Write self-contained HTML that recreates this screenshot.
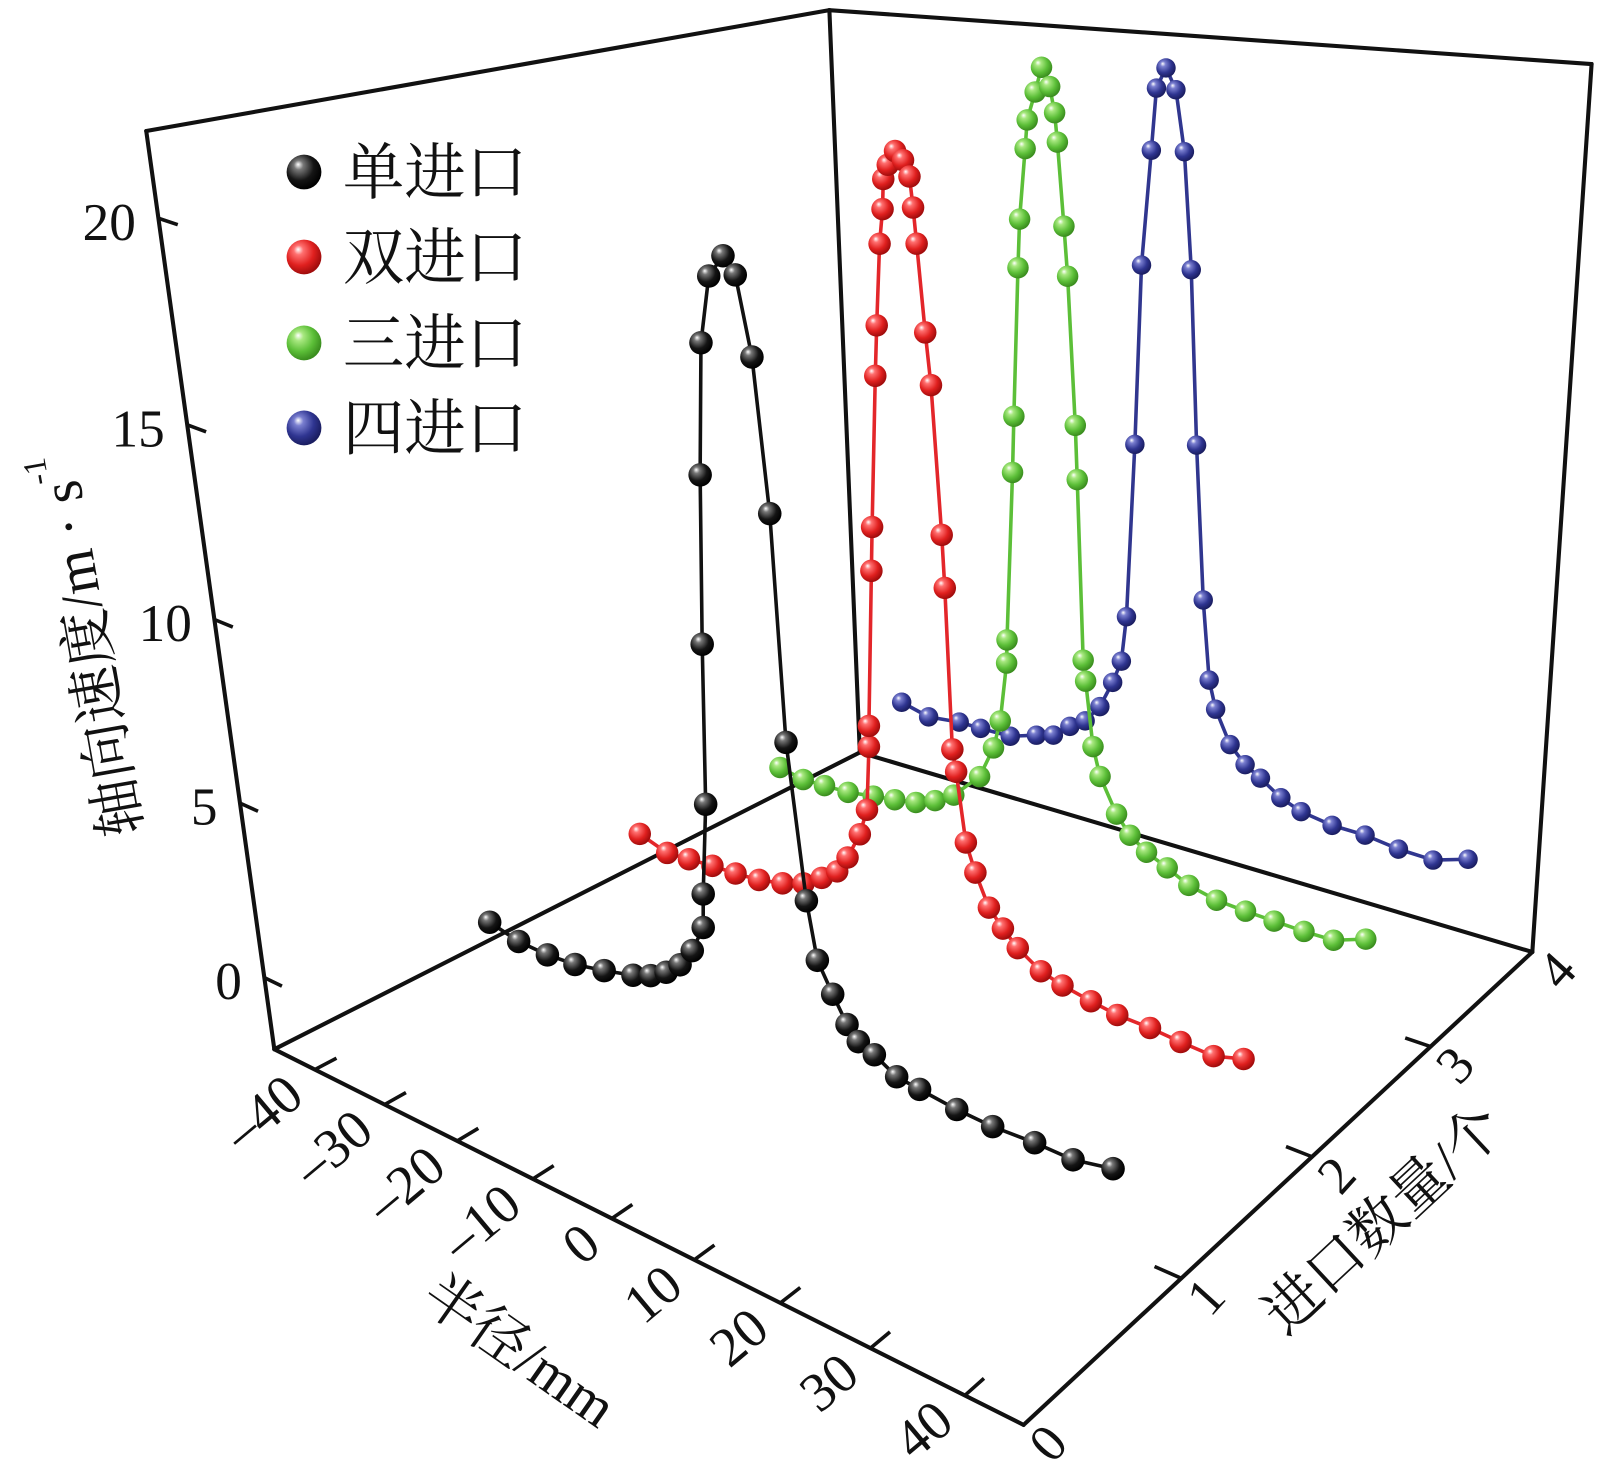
<!DOCTYPE html>
<html><head><meta charset="utf-8"><title>轴向速度 3D chart</title>
<style>
html,body{margin:0;padding:0;background:#fff;}
svg{display:block;}
text{font-family:"Liberation Serif","Noto Serif CJK SC",serif;fill:#111;}
</style></head>
<body>
<svg id="chart" width="1605" height="1470" viewBox="0 0 1568 1436" xmlns="http://www.w3.org/2000/svg">
<defs>
<radialGradient id="g-black" cx="0.4" cy="0.38" r="0.62" fx="0.33" fy="0.28"><stop offset="0" stop-color="#ffffff"/><stop offset="0.22" stop-color="#777"/><stop offset="0.65" stop-color="#151515"/><stop offset="1" stop-color="#000"/></radialGradient>
<radialGradient id="g-red" cx="0.4" cy="0.38" r="0.62" fx="0.33" fy="0.28"><stop offset="0" stop-color="#ffffff"/><stop offset="0.22" stop-color="#ff7070"/><stop offset="0.65" stop-color="#e0201f"/><stop offset="1" stop-color="#a00c0c"/></radialGradient>
<radialGradient id="g-green" cx="0.4" cy="0.38" r="0.62" fx="0.33" fy="0.28"><stop offset="0" stop-color="#ffffff"/><stop offset="0.22" stop-color="#a8e880"/><stop offset="0.65" stop-color="#5cbf38"/><stop offset="1" stop-color="#3a8d1e"/></radialGradient>
<radialGradient id="g-blue" cx="0.4" cy="0.38" r="0.62" fx="0.33" fy="0.28"><stop offset="0" stop-color="#ffffff"/><stop offset="0.22" stop-color="#7a7fd0"/><stop offset="0.65" stop-color="#2f3591"/><stop offset="1" stop-color="#1a1d60"/></radialGradient>
</defs>
<g id="box"></g>
<g id="ticks"></g>
<g id="series"></g>
<text x="507" y="1320" font-size="56" text-anchor="middle" dominant-baseline="central" transform="rotate(35 507 1320)">半径/mm</text>
<text x="1352" y="1192" font-size="56" text-anchor="middle" dominant-baseline="central" transform="rotate(-43 1352 1192)">进口数量/个</text>
<text x="88" y="630" font-size="56" text-anchor="middle" dominant-baseline="central" transform="rotate(-100 88 630)">轴向速度/m · s<tspan font-size="32" dy="-22">-1</tspan></text>
<g id="legend"></g>
</svg>
<script>
// ---- data ----
const seriesNames = ["单进口","双进口","三进口","四进口"];
const seriesN = [1,2,3,4];
const xBlack = [-40,-35.8,-31.6,-27.6,-23.4,-19.3,-16.8,-14.6,-12.6,-10.8,-9.1,-8.8,-7.7,-6.8,-5.7,-4.6,-3.2,-1.4,-0.1,1.3,2.4,2.9,4.4,5.4,7.1,8.7,10,11.9,14.5,17.2,21.5,25.6,30.3,34.5,38.8];
const zBlack = [-0.46,-0.67,-0.70,-0.63,-0.44,-0.21,0,0.3,0.7,1.28,2.1,3.1,5.75,10.2,14.65,17.95,19.65,20.25,19.85,17.95,14.2,8.3,4.1,2.5,1.7,1.0,0.64,0.46,0.1,0.02,-0.1,-0.15,-0.1,-0.12,0.1];
const xRed = [-40,-35.9,-32.6,-29.1,-25.7,-22.3,-18.9,-15.9,-13.3,-11.1,-9.6,-7.8,-6.7,-6.1,-6.0,-4.9,-4.6,-3.5,-3.1,-2.4,-1.9,-1.7,-1.1,-0.2,0.7,1.4,1.7,2.0,2.7,3.2,4.0,4.2,4.6,5.0,6.0,7.1,8.7,10.4,12.2,15.0,17.6,21.0,24.1,27.9,31.4,35.1,38.4];
const zRed = [-0.08,-0.36,-0.3,-0.23,-0.2,-0.13,0.04,0.28,0.66,1.04,1.58,2.43,3.26,5.2,5.8,10.3,11.5,15.6,16.9,19.0,19.9,20.7,21.1,21.5,21.3,20.9,20.1,19.2,17.0,15.7,11.8,10.4,5.9,5.3,3.3,2.5,1.6,1.13,0.71,0.28,0.1,-0.05,-0.16,-0.18,-0.25,-0.3,-0.07];
const xGreen = [-39.5,-35.9,-32.6,-29,-25.2,-22,-18.9,-16.1,-13.4,-9.7,-7.7,-6.7,-5.7,-5.6,-4.5,-4.2,-3.4,-3.1,-2.3,-2.0,-1.0,-0.2,0.75,1.3,1.6,2.3,2.7,3.5,3.7,4.3,4.6,5.5,6.4,8.5,10.2,12.3,14.9,17.6,21,24.5,27.9,31.4,34.8,38.4];
const zGreen = [-0.11,-0.26,-0.23,-0.2,-0.06,0.05,0.18,0.44,0.81,1.66,2.71,3.63,5.5,6.2,11.2,12.8,16.9,18.2,20.1,20.9,21.7,22.4,21.9,21.2,20.4,18.2,16.9,12.9,11.4,6.2,5.6,3.67,2.81,1.8,1.28,0.92,0.64,0.32,0.14,0.09,0.07,0.05,0.07,0.4];
const xBlue = [-38.75,-34.5,-29.7,-26.4,-21.9,-18,-15.5,-13.1,-10.9,-8.8,-7,-5.8,-5.1,-4,-3.2,-2,-1.4,-0.24,1.0,2.1,3.1,4,5.1,6,6.9,8.85,10.85,12.85,15.5,18.1,22,26.05,30.1,34.2,38.2];
const zBlue = [0.16,-0.09,0.02,0.01,0.02,0.3,0.46,0.9,1.22,1.82,2.73,3.5,5.0,10.4,15.65,18.85,20.6,21.2,20.6,18.9,15.7,10.7,6.05,3.58,2.7,1.69,1.18,0.88,0.44,0.18,0.02,0,-0.14,-0.18,0.13];
const zTicks = [0,5,10,15,20];
const xTicks = [-40,-30,-20,-10,0,10,20,30,40];
const nTicks = [0,1,2,3,4];

// ---- projection (perspective box) ----
const VP=[1095,6954];
const cA=[268,1025], cB=[1000,1392], cC=[1497,930], cD=[840,735];
const kA=.1513, kB=.179, kC=.144, kD=.1166;
const nTab=[0,1,2,3,4], vTab=[0,.31,.567,.80,1];
const zTab=[-2,0,5,10,15,20,22.2], gTab=[0,.078,.268,.468,.68,.905,1];
const XMIN=-46, XMAX=46, PC=1.22, ZTOP=22.2, ZFLOOR=-2;
function interp(xs,ys,v){
  if(v<=xs[0]) return ys[0]+(v-xs[0])*(ys[1]-ys[0])/(xs[1]-xs[0]);
  for(let i=1;i<xs.length;i++){ if(v<=xs[i]) return ys[i-1]+(v-xs[i-1])*(ys[i]-ys[i-1])/(xs[i]-xs[i-1]); }
  const m=xs.length-1; return ys[m]+(v-xs[m])*(ys[m]-ys[m-1])/(xs[m]-xs[m-1]);
}
function lerp(a,b,t){return [a[0]+(b[0]-a[0])*t, a[1]+(b[1]-a[1])*t];}
function proj(x,n,z){
  const v=interp(nTab,vTab,n);
  const t=(x-XMIN)/(XMAX-XMIN);
  const p=t/(t+PC*(1-t));
  const F=lerp(lerp(cA,cD,v), lerp(cB,cC,v), p);
  const k=(1-p)*(1-v)*kA+p*(1-v)*kB+p*v*kC+(1-p)*v*kD;
  const f=1+k*interp(zTab,gTab,z);
  return [VP[0]+(F[0]-VP[0])*f, VP[1]+(F[1]-VP[1])*f];
}
const NS="http://www.w3.org/2000/svg";
function mk(tag,attrs,parent){const e=document.createElementNS(NS,tag);for(const k in attrs)e.setAttribute(k,attrs[k]);parent.appendChild(e);return e;}

// ---- box ----
const box=document.getElementById('box');
const P=(x,n,z)=>proj(x,n,z);
const edges=[
 ["floor-back-left-edge",P(XMIN,0,ZFLOOR),P(XMIN,4,ZFLOOR)],
 ["floor-back-right-edge",P(XMIN,4,ZFLOOR),P(XMAX,4,ZFLOOR)],
 ["back-vertical-edge",P(XMIN,4,ZFLOOR),P(XMIN,4,ZTOP)],
 ["top-left-edge",P(XMIN,0,ZTOP),P(XMIN,4,ZTOP)],
 ["top-right-edge",P(XMIN,4,ZTOP),P(XMAX,4,ZTOP)],
 ["right-vertical-edge",P(XMAX,4,ZFLOOR),P(XMAX,4,ZTOP)],
 ["x-axis-line",P(XMIN,0,ZFLOOR),P(XMAX,0,ZFLOOR)],
 ["n-axis-line",P(XMAX,0,ZFLOOR),P(XMAX,4,ZFLOOR)],
 ["z-axis-line",P(XMIN,0,ZFLOOR),P(XMIN,0,ZTOP)]
];
edges.forEach(e=>{
  const l=mk('line',{x1:e[1][0],y1:e[1][1],x2:e[2][0],y2:e[2][1],stroke:'#111','stroke-width':4,'stroke-linecap':'round'},box);
  
  
});

// ---- ticks ----
const tg=document.getElementById('ticks');
zTicks.forEach(z=>{
  const a=P(XMIN,0,z), b=P(XMIN+2.6,0,z);
  const l=mk('line',{x1:a[0],y1:a[1],x2:b[0],y2:b[1],stroke:'#111','stroke-width':3.5},tg);
  
  
  const t=mk('text',{x:a[0]-22,y:a[1]+4,'font-size':52,'text-anchor':'end','dominant-baseline':'central'},tg);
  t.textContent=String(z);
  
  
});
xTicks.forEach(x=>{
  const a=P(x,0,ZFLOOR), b=P(x,0.12,ZFLOOR);
  const l=mk('line',{x1:a[0],y1:a[1],x2:b[0],y2:b[1],stroke:'#111','stroke-width':3.5},tg);
  
  
  const lx=a[0]-20, ly=a[1]+16;
  const t=mk('text',{x:lx,y:ly,'font-size':54,'text-anchor':'end','dominant-baseline':'central',transform:`rotate(-40 ${lx} ${ly})`},tg);
  t.textContent=(x<0?'–':'')+Math.abs(x);
  
  
});
nTicks.forEach(n=>{
  const a=P(XMAX,n,ZFLOOR), b=P(XMAX-2.8,n,ZFLOOR);
  if(n>0&&n<4){
    const l=mk('line',{x1:a[0],y1:a[1],x2:b[0],y2:b[1],stroke:'#111','stroke-width':3.5},tg);
    
    
  }
  const lx=a[0]+24, ly=a[1]+18;
  const t=mk('text',{x:lx,y:ly,'font-size':52,'text-anchor':'middle','dominant-baseline':'central',transform:`rotate(-48 ${lx} ${ly})`},tg);
  t.textContent=String(n);
  
  
});

// ---- series ----
const sg=document.getElementById('series');
const seriesDefs=[
  {name:'series-four-inlet',xs:xBlue,zs:zBlue,n:seriesN[3],line:'#30368f',grad:'g-blue',r:9.5},
  {name:'series-three-inlet',xs:xGreen,zs:zGreen,n:seriesN[2],line:'#5cbf38',grad:'g-green',r:10.5},
  {name:'series-two-inlet',xs:xRed,zs:zRed,n:seriesN[1],line:'#e3262a',grad:'g-red',r:11},
  {name:'series-single-inlet',xs:xBlack,zs:zBlack,n:seriesN[0],line:'#111',grad:'g-black',r:11.5}
];
seriesDefs.forEach(s=>{
  const g=mk('g',{},sg);
  
  
  const pts=s.xs.map((x,i)=>P(x,s.n,s.zs[i]));
  const pl=mk('polyline',{points:pts.map(p=>p[0].toFixed(1)+','+p[1].toFixed(1)).join(' '),fill:'none',stroke:s.line,'stroke-width':3.5,'stroke-linejoin':'round'},g);
  
  
  pts.forEach(p=>{
    const c=mk('circle',{cx:p[0].toFixed(1),cy:p[1].toFixed(1),r:s.r,fill:`url(#${s.grad})`},g);
    
    
  });
});

// ---- legend ----
const lg=document.getElementById('legend');
const legGrads=['g-black','g-red','g-green','g-blue'];
const legY=[168,251,335,418];
seriesNames.forEach((nm,i)=>{
  const c=mk('circle',{cx:297,cy:legY[i],r:17,fill:`url(#${legGrads[i]})`},lg);
  
  
  const t=mk('text',{x:335,y:legY[i]+21,'font-size':60},lg);
  t.textContent=nm;
  
  
});
</script>
</body></html>
